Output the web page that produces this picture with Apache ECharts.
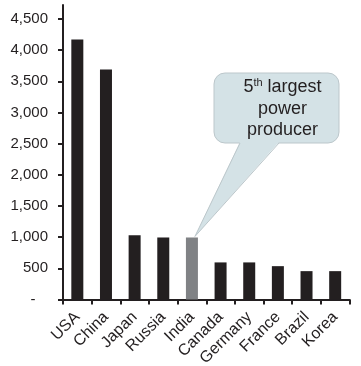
<!DOCTYPE html>
<html>
<head>
<meta charset="utf-8">
<script src="https://cdn.jsdelivr.net/npm/echarts@6/dist/echarts.min.js"></script>
<style>
  html, body { margin: 0; padding: 0; background: #ffffff; }
  #chart { width: 361px; height: 366px; }
</style>
</head>
<body>
<div id="chart"></div>
<script>
// Electricity generation by country (TWh)
const countries = ['USA', 'China', 'Japan', 'Russia', 'India', 'Canada', 'Germany', 'France', 'Brazil', 'Korea'];
const generation = [4170, 3690, 1030, 995, 995, 595, 595, 535, 455, 455];
const highlighted = 'India';
const yTickValues = [0, 500, 1000, 1500, 2000, 2500, 3000, 3500, 4000, 4500];

const INK = '#231f20';
const FONT = '"Liberation Sans", Arial, Helvetica, sans-serif';

const chart = echarts.init(document.getElementById('chart'), null, { renderer: 'canvas' });

chart.setOption({
  animation: false,
  backgroundColor: '#ffffff',
  grid: { left: 63, right: 11.5, top: 5, bottom: 66.5, containLabel: false, outerBoundsMode: 'none' },
  xAxis: {
    type: 'category',
    data: countries,
    boundaryGap: true,
    axisLine: { show: true, lineStyle: { color: INK, width: 2 } },
    axisTick: { show: true, alignWithLabel: false, length: 5, lineStyle: { color: INK, width: 2 } },
    axisLabel: {
      rotate: 45,
      interval: 0,
      margin: 15,
      color: INK,
      fontSize: 16,
      fontFamily: FONT
    },
    splitLine: { show: false }
  },
  yAxis: {
    type: 'value',
    min: 0,
    max: 4725,
    interval: 500,
    axisLine: { show: true, lineStyle: { color: INK, width: 2 } },
    axisTick: { show: true, length: 5, customValues: yTickValues, lineStyle: { color: INK, width: 2 } },
    axisLabel: {
      customValues: yTickValues,
      margin: 15,
      color: INK,
      fontSize: 15,
      fontFamily: FONT,
      formatter: v => v === 0 ? '-   ' : v.toLocaleString('en-US')
    },
    splitLine: { show: false }
  },
  series: [{
    type: 'bar',
    barWidth: 12,
    data: generation.map((v, i) => ({
      value: v,
      itemStyle: { color: countries[i] === highlighted ? '#808285' : INK }
    }))
  }]
});

// Speech-bubble callout pointing at the highlighted bar
const idx = countries.indexOf(highlighted);
const tip = chart.convertToPixel({ seriesIndex: 0 }, [idx, generation[idx]]);
const tipPt = [tip[0] + 3, tip[1] - 1];
const box = { x: 214, y: 73, width: 125, height: 70, r: 11 };
const notchL = 240, notchR = 279;
const boxBottom = box.y + box.height;
const BUBBLE_FILL = '#d4e2e6';
const BUBBLE_EDGE = '#bcc7cb';

chart.setOption({
  graphic: [
    {
      type: 'rect',
      shape: { x: box.x, y: box.y, width: box.width, height: box.height, r: box.r },
      style: { fill: BUBBLE_FILL, stroke: BUBBLE_EDGE, lineWidth: 1 },
      z: 10
    },
    {
      type: 'polygon',
      shape: { points: [[notchL, boxBottom - 1], [notchR, boxBottom - 1], tipPt] },
      style: { fill: BUBBLE_FILL },
      z: 11
    },
    {
      type: 'polyline',
      shape: { points: [[notchL, boxBottom], tipPt, [notchR, boxBottom]] },
      style: { fill: null, stroke: BUBBLE_EDGE, lineWidth: 1 },
      z: 12
    },
    {
      type: 'text',
      x: box.x + box.width / 2 + 6,
      y: box.y + box.height / 2 + 1,
      z: 13,
      style: {
        text: '{n|5}{s|th}{n| largest}\n{n|power}\n{n|producer}',
        align: 'center',
        verticalAlign: 'middle',
        fill: INK,
        fontFamily: FONT,
        fontSize: 18,
        rich: {
          n: { fontSize: 18, lineHeight: 21.5, fontFamily: FONT, fill: INK, align: 'center' },
          s: { fontSize: 11, lineHeight: 21.5, fontFamily: FONT, fill: INK, padding: [0, 0, 9, 0], align: 'center' }
        }
      }
    }
  ]
});
</script>
</body>
</html>
